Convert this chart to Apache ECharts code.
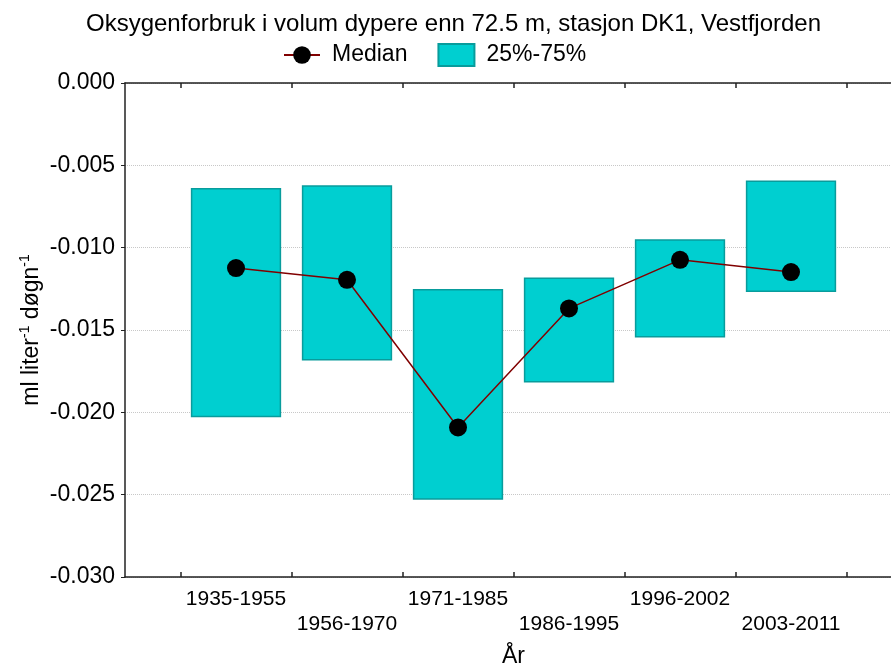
<!DOCTYPE html>
<html>
<head>
<meta charset="utf-8">
<script src="https://cdn.jsdelivr.net/npm/echarts@6/dist/echarts.min.js"></script>
<style>
  html, body { margin: 0; padding: 0; background: #fff; }
  #chart { width: 891px; height: 666px; }
</style>
</head>
<body>
<div id="chart"></div>
<script>
// data
var periods = ['1935-1955', '1956-1970', '1971-1985', '1986-1995', '1996-2002', '2003-2011'];
var median = [-0.01124, -0.01195, -0.02092, -0.01369, -0.01074, -0.01148];
var q25 = [-0.02025, -0.01681, -0.02526, -0.01815, -0.01541, -0.01264];
var q75 = [-0.00642, -0.00626, -0.01256, -0.01185, -0.00954, -0.00596];
var yTicks = [0, -0.005, -0.010, -0.015, -0.020, -0.025, -0.030];

var fontName = 'Liberation Sans, Arial, sans-serif';
var axisColor = '#222';

var chart = echarts.init(document.getElementById('chart'));

var positions = periods.map(function (p, i) { return i + 1; });
var boxData = periods.map(function (p, i) { return [i + 1, q25[i], q75[i]]; });
var medianData = periods.map(function (p, i) { return [i + 1, median[i]]; });
var tickPos = [0.5, 1.5, 2.5, 3.5, 4.5, 5.5, 6.5];

var option = {
    backgroundColor: '#fff',
    textStyle: { fontFamily: fontName },
    title: {
        text: 'Oksygenforbruk i volum dypere enn 72.5 m, stasjon DK1, Vestfjorden',
        left: 81,
        top: 7,
        textStyle: { fontFamily: fontName, fontSize: 24, fontWeight: 'normal', color: '#000' }
    },
    legend: {
        top: 43,
        left: 283,
        padding: 0,
        itemWidth: 36,
        itemHeight: 22,
        itemGap: 30,
        textStyle: { fontFamily: fontName, fontSize: 23, color: '#000', padding: [0, 0, 0, 7] },
        data: [
            { name: 'Median' },
            { name: '25%-75%', icon: 'rect' }
        ]
    },
    grid: {
        left: 125,
        right: -11,
        top: 83,
        bottom: 89,
        outerBoundsMode: 'none'
    },
    xAxis: [
        {
            type: 'value',
            min: 0,
            max: 7,
            name: 'År',
            nameLocation: 'middle',
            nameGap: 68,
            nameMoveOverlap: false,
            nameTextStyle: { fontFamily: fontName, fontSize: 23, color: '#000' },
            axisLine: { show: true, onZero: false, lineStyle: { color: axisColor, width: 1.5 } },
            axisTick: { show: true, inside: true, length: 5, customValues: tickPos, lineStyle: { color: axisColor, width: 1.5 } },
            axisLabel: {
                show: true,
                customValues: positions,
                margin: 10,
                fontFamily: fontName,
                fontSize: 21,
                lineHeight: 25,
                color: '#000',
                formatter: function (v) {
                    var i = Math.round(v) - 1;
                    var name = periods[i];
                    return i % 2 === 0 ? name : '\n' + name;
                }
            },
            splitLine: { show: false }
        },
        {
            type: 'value',
            position: 'top',
            min: 0,
            max: 7,
            axisLine: { show: true, onZero: false, lineStyle: { color: axisColor, width: 1.5 } },
            axisTick: { show: true, inside: true, length: 5, customValues: tickPos, lineStyle: { color: axisColor, width: 1.5 } },
            axisLabel: { show: false },
            splitLine: { show: false }
        }
    ],
    yAxis: {
        type: 'value',
        min: yTicks[yTicks.length - 1],
        max: yTicks[0],
        interval: 0.005,
        name: 'ml liter{sup|-1} døgn{sup|-1}',
        nameLocation: 'middle',
        nameGap: 79,
        nameMoveOverlap: false,
        nameTextStyle: {
            fontFamily: fontName,
            fontSize: 23,
            color: '#000',
            lineHeight: 28,
            rich: {
                sup: { fontFamily: fontName, fontSize: 14, color: '#000', verticalAlign: 'top', lineHeight: 28 }
            }
        },
        axisLine: { show: true, onZero: false, lineStyle: { color: axisColor, width: 1.5 } },
        axisTick: { show: true, inside: false, length: 4, lineStyle: { color: axisColor, width: 1 } },
        axisLabel: {
            margin: 10,
            fontFamily: fontName,
            fontSize: 23,
            color: '#000',
            formatter: function (v) { return v.toFixed(3); }
        },
        splitLine: { show: true, lineStyle: { color: '#c8c8c8', type: [1, 1], width: 1 } }
    },
    series: [
        {
            name: '25%-75%',
            type: 'custom',
            z: 2,
            itemStyle: { color: '#00cfd0', borderColor: '#089c9c', borderWidth: 1.5 },
            encode: { x: 0, y: [1, 2] },
            data: boxData,
            renderItem: function (params, api) {
                var x = api.value(0);
                var p1 = api.coord([x - 0.4, api.value(2)]);
                var p2 = api.coord([x + 0.4, api.value(1)]);
                return {
                    type: 'rect',
                    shape: { x: p1[0], y: p1[1], width: p2[0] - p1[0], height: p2[1] - p1[1] },
                    style: { fill: '#00cfd0', stroke: '#089c9c', lineWidth: 1.5 }
                };
            }
        },
        {
            name: 'Median',
            type: 'line',
            z: 5,
            data: medianData,
            symbol: 'circle',
            symbolSize: 18,
            lineStyle: { color: '#800000', width: 1.5 },
            itemStyle: { color: '#000' },
            color: '#000'
        }
    ]
};

chart.setOption(option);
</script>
</body>
</html>
